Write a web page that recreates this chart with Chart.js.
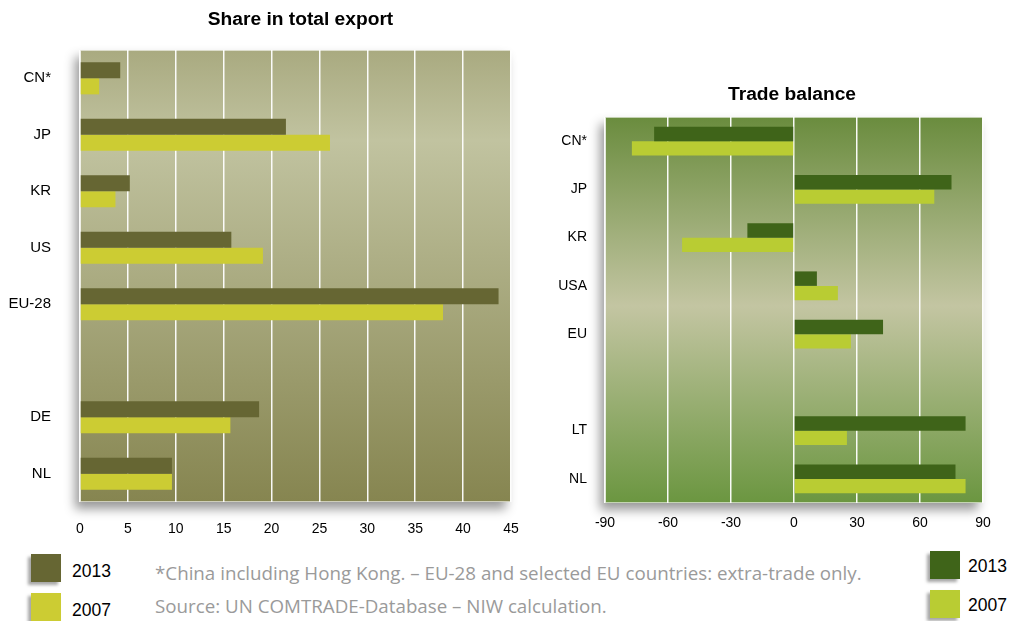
<!DOCTYPE html>
<html>
<head>
<meta charset="utf-8">
<script src="https://cdn.jsdelivr.net/npm/chart.js@4.4.1/dist/chart.umd.min.js"></script>
<style>
  body { margin: 0; background: #fff; width: 1014px; height: 621px; position: relative; overflow: hidden; font-family: Arial, "Liberation Sans", sans-serif; }
  canvas { position: absolute; top: 0; }
  #exportChart { left: 0; }
  #balanceChart { left: 540px; }
  .sq { position: absolute; width: 30px; height: 28px; box-shadow: -3px 3px 3px rgba(0,0,0,0.35); }
  .lg { position: absolute; font-size: 17.5px; color: #000; line-height: 20px; }
  .note { position: absolute; left: 155px; font-family: "Open Sans", sans-serif; font-size: 18.75px; color: #9a9a9a; line-height: 20px; white-space: nowrap; }
</style>
</head>
<body>
<canvas id="exportChart" width="545" height="545"></canvas>
<canvas id="balanceChart" width="474" height="545"></canvas>

<div class="note" style="top:563px">*China including Hong Kong. – EU-28 and selected EU countries: extra-trade only.</div>
<div class="note" style="top:596px">Source: UN COMTRADE-Database – NIW calculation.</div>

<script>
// share in total export (%)
const exportCats = ['CN*', 'JP', 'KR', 'US', 'EU-28', '', 'DE', 'NL'];
const export2013 = [4.2, 21.5, 5.2, 15.8, 43.7, null, 18.7, 9.6];
const export2007 = [2.0, 26.1, 3.7, 19.1, 37.9, null, 15.7, 9.6];

// trade balance
const balanceCats = ['CN*', 'JP', 'KR', 'USA', 'EU', '', 'LT', 'NL'];
const balance2013 = [-66.6, 75.0, -22.2, 10.9, 42.4, null, 81.7, 76.9];
const balance2007 = [-77.2, 66.8, -53.3, 20.9, 27.1, null, 25.2, 81.7];

const years = ['2013', '2007'];
const exportColors = ['#666633', '#cccc33'];
const balanceColors = ['#3f6419', '#b9cc33'];

const FONT = 'Arial, "Liberation Sans", sans-serif';

// gradient plot background with a soft shadow + chart title
function panelPlugin(title, titleY, titleDx, stops) {
  return {
    id: 'panel',
    beforeDraw(chart) {
      const { ctx, chartArea: a } = chart;
      const g = ctx.createLinearGradient(0, a.top, 0, a.bottom);
      stops.forEach(s => g.addColorStop(s[0], s[1]));
      ctx.save();
      ctx.shadowColor = 'rgba(0,0,0,0.4)';
      ctx.shadowBlur = 10;
      ctx.shadowOffsetX = -5;
      ctx.shadowOffsetY = 7;
      ctx.fillStyle = g;
      ctx.fillRect(a.left, a.top, a.right - a.left, a.bottom - a.top);
      ctx.restore();
      ctx.save();
      ctx.strokeStyle = 'rgba(255,255,255,0.6)';
      ctx.lineWidth = 1;
      ctx.strokeRect(a.left + 0.5, a.top + 0.5, a.right - a.left - 1, a.bottom - a.top - 1);
      ctx.restore();
    },
    afterDraw(chart) {
      const { ctx, chartArea: a } = chart;
      ctx.save();
      ctx.font = 'bold 19.2px ' + FONT;
      ctx.fillStyle = '#000';
      ctx.textAlign = 'center';
      ctx.textBaseline = 'middle';
      ctx.fillText(title, (a.left + a.right) / 2 + titleDx, titleY);
      ctx.restore();
    }
  };
}

function makeChart(id, cats, d13, d07, colors, cfg) {
  return new Chart(document.getElementById(id), {
    type: 'bar',
    data: {
      labels: cats,
      datasets: [
        { label: years[0], data: d13, backgroundColor: colors[0] },
        { label: years[1], data: d07, backgroundColor: colors[1] }
      ]
    },
    options: {
      indexAxis: 'y',
      responsive: false,
      animation: false,
      categoryPercentage: cfg.catPct,
      barPercentage: 1.0,
      layout: { padding: { top: cfg.top, right: cfg.right, left: 0, bottom: 0 } },
      plugins: { legend: { display: false }, tooltip: { enabled: false } },
      scales: {
        x: {
          min: cfg.min, max: cfg.max,
          ticks: { stepSize: cfg.step, color: '#000', font: { family: FONT, size: 14 }, padding: cfg.xPad },
          grid: { color: 'rgba(255,255,255,0.95)', lineWidth: 1.5, drawTicks: false },
          border: { display: false },
          afterFit: s => { s.height = cfg.xH; }
        },
        y: {
          ticks: { color: '#000', font: { family: FONT, size: cfg.yFont }, padding: cfg.yPad },
          grid: { display: false, drawTicks: false },
          border: { display: false },
          afterFit: s => { s.width = cfg.yW; }
        }
      }
    },
    plugins: [panelPlugin(cfg.title, cfg.titleY, cfg.titleDx, cfg.stops)]
  });
}

makeChart('exportChart', exportCats, export2013, export2007, exportColors, {
  title: 'Share in total export', titleY: 20, titleDx: 5,
  top: 50, right: 34, xH: 43, yW: 80, xPad: 19, yPad: 29, yFont: 15,
  min: 0, max: 45, step: 5, catPct: 0.57,
  stops: [[0, '#a9aa80'], [0.2, '#c1c3a0'], [1, '#868550']]
});

makeChart('balanceChart', balanceCats, balance2013, balance2007, balanceColors, {
  title: 'Trade balance', titleY: 95, titleDx: -2,
  top: 117, right: 31, xH: 42, yW: 65, xPad: 12, yPad: 18, yFont: 14,
  min: -90, max: 90, step: 30, catPct: 0.6,
  stops: [[0, '#6a8c3e'], [0.49, '#c3c5a2'], [1, '#6b9640']]
});

// legends built from the same names/colours
function legend(x, tops, textX, textOff, colors) {
  years.forEach((y, i) => {
    const sq = document.createElement('div');
    sq.className = 'sq';
    sq.style.left = x + 'px';
    sq.style.top = tops[i] + 'px';
    sq.style.background = colors[i];
    document.body.appendChild(sq);
    const t = document.createElement('div');
    t.className = 'lg';
    t.style.left = textX + 'px';
    t.style.top = (tops[i] + textOff) + 'px';
    t.textContent = y;
    document.body.appendChild(t);
  });
}
legend(31, [554, 593], 72, 7, exportColors);
legend(930, [551, 590], 968, 5, balanceColors);
</script>
</body>
</html>
